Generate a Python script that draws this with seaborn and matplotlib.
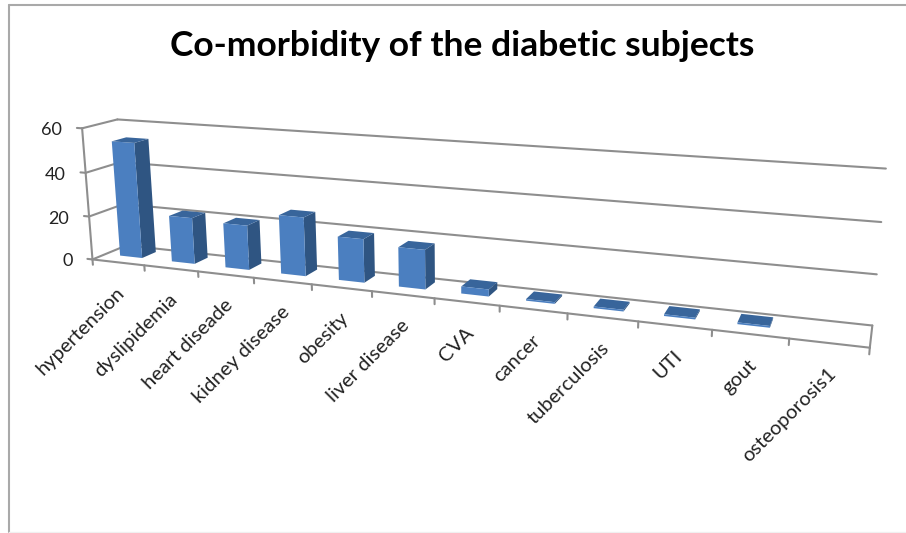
import numpy as np
import matplotlib
matplotlib.use("Agg")
import matplotlib.pyplot as plt
from matplotlib.lines import Line2D
from mpl_toolkits.mplot3d import proj3d
import seaborn as sns

categories = ["hypertension", "dyslipidemia", "heart diseade", "kidney disease", "obesity", "liver disease",
              "CVA", "cancer", "tuberculosis", "UTI", "gout", "osteoporosis1"]
values = [53, 21, 20, 26, 19, 17, 3, 0.7, 0.7, 0.7, 0.7, 0]
value_ticks = [0, 20, 40, 60]
title = "Co-morbidity of the diabetic subjects"

sns.set_theme(style="white", font="Lato")
front, side, top = sns.color_palette(["#4b7fc0", "#2f5582", "#38659b"])
grid = "#8e8e8e"
ink = "#222222"

W, H = 906, 533
fig = plt.figure(figsize=(W / 100, H / 100), dpi=100, facecolor="white")
ax = fig.add_axes([0.0342, -0.1887, 0.8911, 0.8911 * W / H], projection="3d", computed_zorder=False)
ax.set_xlim(0, 12, view_margin=0)
ax.set_ylim(0, 1, view_margin=0)
ax.set_zlim(0, 60, view_margin=0)
ax.view_init(elev=14.0102, azim=-68.9557, roll=0.2684)
ax.set_proj_type("persp", focal_length=float(np.exp(-1.2938)))
ax.set_box_aspect((4, 0.3079, 0.7217))
ax.set_axis_off()
ax.patch.set_alpha(0)

n_cat = len(categories)
n_top = max(value_ticks)

# Walls and floor outline
line = dict(color=grid, lw=1.5, zorder=1, solid_capstyle="round", clip_on=False)
for v in value_ticks:
    ax.plot([0, n_cat], [1, 1], [v, v], **line)
    ax.plot([0, 0], [0, 1], [v, v], **line)
    ax.plot([-0.1, 0], [0, 0], [v, v], **line)
ax.plot([0, 0], [0, 0], [0, n_top], **line)
ax.plot([0, n_cat], [0, 0], [0, 0], **line)
ax.plot([n_cat, n_cat], [0, 1], [0, 0], **line)
for i in range(n_cat + 1):
    ax.plot([i, i], [0, 0], [0, -2.5], **line)

# Bars: only the three visible faces of each box get a colour
hidden = (0, 0, 0, 0)
bar_idx = [i for i, v in enumerate(values) if v > 0]
bar_w, d0, d1 = 0.43, 0.38, 0.8
face_colors = []
for _ in bar_idx:
    face_colors += [hidden, top, front, hidden, hidden, side]
bars = ax.bar3d([i + 0.5 - bar_w / 2 for i in bar_idx], [d0] * len(bar_idx), [0] * len(bar_idx),
                bar_w, d1 - d0, [values[i] for i in bar_idx],
                color=face_colors, shade=False, edgecolor="none", zorder=3)
bars.set_clip_on(False)

# Text placed from the projected axis positions
ax.apply_aspect()
M = ax.get_proj()


def anchor(x, y, z):
    px, py, _ = proj3d.proj_transform(x, y, z, M)
    return float(px), float(py)


for v in value_ticks:
    ax.annotate(str(v), anchor(0, 0, v), xytext=(-20, -2), textcoords="offset pixels",
                ha="right", va="center", fontsize=13, color=ink, annotation_clip=False)
for i, name in enumerate(categories):
    ax.annotate(name, anchor(i + 0.5, 0, 0), xytext=(4, -28), textcoords="offset pixels",
                ha="right", va="center", rotation=45, rotation_mode="anchor",
                fontsize=14.5, color=ink, annotation_clip=False)

fig.text(462 / W, 1 - 46 / H, title, ha="center", va="center", fontsize=25.5, fontweight="bold", color="black")

# Chart frame
frame = dict(color="#a9a9a9", lw=1.5, transform=fig.transFigure)
fig.add_artist(Line2D([9 / W, 9 / W], [1 / H, 1 - 4.5 / H], **frame))
fig.add_artist(Line2D([9 / W, 1], [1 - 4.5 / H, 1 - 4.5 / H], **frame))
fig.add_artist(Line2D([9 / W, 1], [1 / H, 1 / H], color="#f0f0f0", lw=1, transform=fig.transFigure))

fig.savefig("out.png", dpi=100)
